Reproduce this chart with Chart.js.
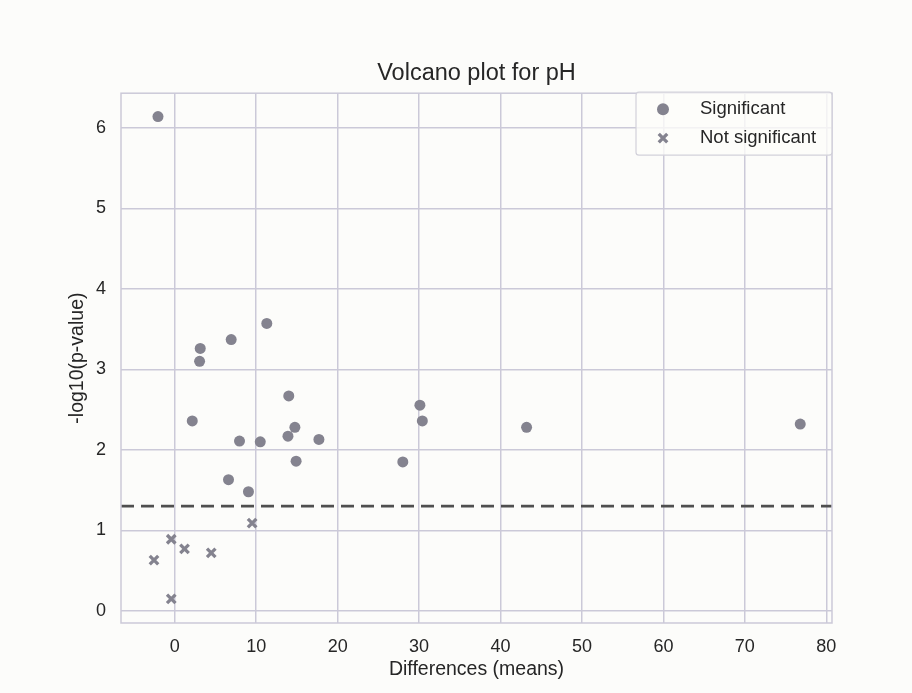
<!DOCTYPE html>
<html>
<head>
<meta charset="utf-8">
<script src="https://cdn.jsdelivr.net/npm/chart.js@4"></script>
<style>
  html, body { margin: 0; padding: 0; background: #fcfcfa; }
</style>
</head>
<body>
<canvas id="volcano" width="912" height="693"></canvas>
<script>
// Significant points (circles): difference of means vs -log10(p)
const sigX = [-2.06, 11.3, 6.93, 3.13, 3.05, 14.0, 2.15, 30.1, 30.4, 14.75, 43.2, 76.8, 13.9, 17.7, 7.95, 10.5, 14.9, 28.0, 6.6, 9.05];
const sigY = [6.14, 3.57, 3.37, 3.26, 3.10, 2.67, 2.36, 2.555, 2.36, 2.28, 2.28, 2.32, 2.17, 2.13, 2.11, 2.10, 1.86, 1.85, 1.63, 1.48];

// Not significant points (crosses)
const nsX = [9.5, -0.43, 1.2, 4.48, -2.55, -0.43];
const nsY = [1.09, 0.89, 0.77, 0.72, 0.63, 0.15];

// threshold line at p = 0.05
const threshold = [1.301];

// axis limits
const xLimits = [-6.6, 80.7];
const yLimits = [-0.15, 6.43];

const markerColor = '#84838f';
const gridColor = '#cbc9d8';
const textColor = '#262626';
const fontFamily = "'Liberation Sans', Arial, sans-serif";

// frame on all four sides + legend inside the plot
const framePlugin = {
    id: 'frame',
    afterDatasetsDraw(chart) {
        const { ctx, chartArea: a } = chart;
        ctx.save();
        ctx.strokeStyle = gridColor;
        ctx.lineWidth = 1.5;
        ctx.strokeRect(a.left, a.top, a.right - a.left, a.bottom - a.top);

        // legend box
        const w = 196, h = 63;
        const bx = a.right - w, by = a.top - 1;
        ctx.beginPath();
        ctx.roundRect(bx, by, w, h, 3);
        ctx.fillStyle = 'rgba(252,252,250,0.8)';
        ctx.fill();
        ctx.strokeStyle = '#d2d1da';
        ctx.lineWidth = 1.2;
        ctx.stroke();

        const items = chart.data.datasets.filter(d => d.showInLegend);
        items.forEach((d, i) => {
            const cy = by + 17 + i * 29;
            const cx = bx + 27;
            ctx.fillStyle = d.backgroundColor;
            ctx.strokeStyle = d.borderColor;
            ctx.lineWidth = d.borderWidth;
            ctx.beginPath();
            if (d.pointStyle === 'circle') {
                ctx.arc(cx, cy, 6, 0, Math.PI * 2);
                ctx.fill();
            } else {
                const o = d.pointRadius * Math.SQRT1_2;
                ctx.moveTo(cx - o, cy - o); ctx.lineTo(cx + o, cy + o);
                ctx.moveTo(cx - o, cy + o); ctx.lineTo(cx + o, cy - o);
                ctx.stroke();
            }
            ctx.fillStyle = textColor;
            ctx.font = '18.5px ' + fontFamily;
            ctx.textBaseline = 'middle';
            ctx.textAlign = 'left';
            ctx.fillText(d.label, bx + 64, cy);
        });
        ctx.restore();
    }
};

const ctx = document.getElementById('volcano').getContext('2d');
new Chart(ctx, {
    type: 'scatter',
    data: {
        datasets: [
            {
                type: 'line',
                label: 'threshold',
                data: [{ x: xLimits[0], y: threshold[0] }, { x: xLimits[1], y: threshold[0] }],
                borderColor: '#4f4f4f',
                borderWidth: 2.8,
                borderDash: [13, 7],
                pointRadius: 0,
                order: 3
            },
            {
                label: 'Significant',
                data: sigX.map((x, i) => ({ x: x, y: sigY[i] })),
                pointStyle: 'circle',
                pointRadius: 5.5,
                backgroundColor: markerColor,
                borderColor: markerColor,
                borderWidth: 0,
                showInLegend: true,
                order: 1
            },
            {
                label: 'Not significant',
                data: nsX.map((x, i) => ({ x: x, y: nsY[i] })),
                pointStyle: 'crossRot',
                pointRadius: 6,
                backgroundColor: markerColor,
                borderColor: markerColor,
                borderWidth: 3.3,
                showInLegend: true,
                order: 1
            }
        ]
    },
    options: {
        responsive: false,
        animation: false,
        layout: { padding: { left: 66, right: 80, top: 0, bottom: 0 } },
        plugins: {
            legend: { display: false },
            tooltip: { enabled: false },
            title: {
                display: true,
                text: 'Volcano plot for pH',
                fullSize: false,
                color: textColor,
                font: { family: fontFamily, size: 23.5, weight: 'normal' },
                padding: { top: 59.5, bottom: 5.5 }
            }
        },
        scales: {
            x: {
                type: 'linear',
                min: xLimits[0],
                max: xLimits[1],
                afterFit: s => { s.height = 70; },
                ticks: {
                    stepSize: 10,
                    includeBounds: false,
                    padding: 13,
                    color: textColor,
                    font: { family: fontFamily, size: 18 }
                },
                grid: { color: gridColor, lineWidth: 1.5, drawTicks: false },
                border: { display: false },
                title: {
                    display: true,
                    text: 'Differences (means)',
                    color: textColor,
                    font: { family: fontFamily, size: 19.5 },
                    padding: { top: 0, bottom: 12 }
                }
            },
            y: {
                type: 'linear',
                min: yLimits[0],
                max: yLimits[1],
                afterFit: s => { s.width = 121 - 66; },
                ticks: {
                    stepSize: 1,
                    includeBounds: false,
                    padding: 15,
                    color: textColor,
                    font: { family: fontFamily, size: 18 }
                },
                grid: { color: gridColor, lineWidth: 1.5, drawTicks: false },
                border: { display: false },
                title: {
                    display: true,
                    text: '-log10(p-value)',
                    color: textColor,
                    font: { family: fontFamily, size: 19.5 },
                    padding: { top: 0, bottom: 0 }
                }
            }
        }
    },
    plugins: [framePlugin]
});
</script>
</body>
</html>
